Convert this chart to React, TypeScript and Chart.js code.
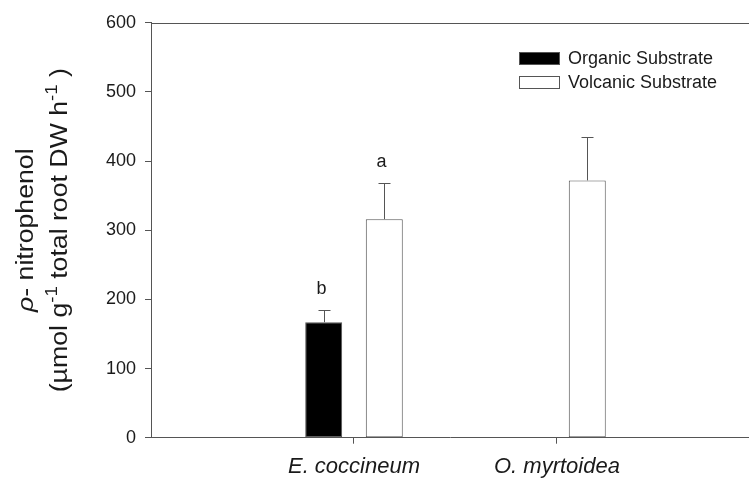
import React, { useEffect, useRef } from 'react';
import { Chart, registerables } from 'chart.js';

Chart.register(...registerables);

// ---- data ----
const categories = ['E. coccineum', 'O. myrtoidea'];
const seriesNames = ['Organic Substrate', 'Volcanic Substrate'];
const organic: (number | null)[] = [167, null];
const organicErr: (number | null)[] = [17, null];
const volcanic: (number | null)[] = [316, 372];
const volcanicErr: (number | null)[] = [52, 63];
const organicLetters: (string | null)[] = ['b', null];
const volcanicLetters: (string | null)[] = ['a', null];
const yMin = 0;
const yMax = 600;
const yStep = 100;
const yTitleLine1 = [
  { text: 'ρ', italic: true, sup: false },
  { text: '- nitrophenol', italic: false, sup: false },
];
const yTitleLine2 = [
  { text: '(µmol g', italic: false, sup: false },
  { text: '-1', italic: false, sup: true },
  { text: ' total root DW h', italic: false, sup: false },
  { text: '-1', italic: false, sup: true },
  { text: ' )', italic: false, sup: false },
];

const FONT = "'Liberation Sans', Arial, sans-serif";
const LINE = '#555555';
const TEXT = '#1a1a1a';

function drawRich(ctx: CanvasRenderingContext2D, segs: any[], cx: number, cy: number, size: number, stretch: number) {
  ctx.save();
  ctx.translate(cx, cy);
  ctx.rotate(-Math.PI / 2);
  ctx.scale(stretch, 1);
  ctx.textAlign = 'left';
  ctx.textBaseline = 'alphabetic';
  ctx.fillStyle = TEXT;
  const fontFor = (s: any) => `${s.italic ? 'italic ' : ''}${s.sup ? Math.round(size * 0.7) : size}px ${FONT}`;
  let total = 0;
  const widths = segs.map((s) => {
    ctx.font = fontFor(s);
    const w = ctx.measureText(s.text).width;
    total += w;
    return w;
  });
  let x = -total / 2;
  segs.forEach((s, i) => {
    ctx.font = fontFor(s);
    ctx.fillText(s.text, x, s.sup ? -size * 0.42 : 0);
    x += widths[i];
  });
  ctx.restore();
}

const annotPlugin = {
  id: 'annot',
  afterDatasetsDraw(chart: any) {
    const ctx: CanvasRenderingContext2D = chart.ctx;
    const ys = chart.scales.y;
    const ca = chart.chartArea;
    ctx.save();
    ctx.strokeStyle = LINE;
    ctx.lineWidth = 1;
    // top frame line
    const ty = Math.round(ca.top) + 0.5;
    ctx.beginPath();
    ctx.moveTo(ca.left, ty);
    ctx.lineTo(ca.right, ty);
    ctx.stroke();
    chart.data.datasets.forEach((ds: any, di: number) => {
      const meta = chart.getDatasetMeta(di);
      meta.data.forEach((bar: any, i: number) => {
        const v = ds.data[i].y;
        if (v == null) return;
        const e = ds.errors[i] || 0;
        const x = Math.round(bar.x) + 0.5;
        const yTop = Math.round(ys.getPixelForValue(v + e)) + 0.5;
        ctx.strokeStyle = LINE;
        ctx.beginPath();
        ctx.moveTo(x, bar.y);
        ctx.lineTo(x, yTop);
        ctx.moveTo(x - 6, yTop);
        ctx.lineTo(x + 6, yTop);
        ctx.stroke();
        const letter = ds.letters[i];
        if (letter) {
          ctx.fillStyle = TEXT;
          ctx.font = `18px ${FONT}`;
          ctx.textAlign = 'center';
          ctx.textBaseline = 'alphabetic';
          ctx.fillText(letter, x - 3, yTop - 17);
        }
      });
    });
    ctx.restore();
  },
  afterDraw(chart: any) {
    const ctx: CanvasRenderingContext2D = chart.ctx;
    const ca = chart.chartArea;
    const cy = (ca.top + ca.bottom) / 2;
    drawRich(ctx, yTitleLine1, 33, cy, 23, 1.16);
    drawRich(ctx, yTitleLine2, 66.5, cy, 23, 1.16);
    // legend
    ctx.save();
    chart.data.datasets.forEach((ds: any, di: number) => {
      const bx = 519.5;
      const by = 52.5 + di * 24;
      ctx.fillStyle = ds.backgroundColor;
      ctx.fillRect(bx, by, 40, 12);
      ctx.strokeStyle = LINE;
      ctx.lineWidth = 1;
      ctx.strokeRect(bx, by, 40, 12);
      ctx.fillStyle = TEXT;
      ctx.font = `18px ${FONT}`;
      ctx.textAlign = 'left';
      ctx.textBaseline = 'middle';
      ctx.fillText(ds.label, 568, by + 6.5);
    });
    ctx.restore();
  },
};

export default function App() {
  const ref = useRef<HTMLCanvasElement | null>(null);
  useEffect(() => {
    if (!ref.current) return;
    const mk = (vals: (number | null)[]) => categories.map((_, i) => ({ x: i + 1, y: vals[i] }));
    const chart = new Chart(ref.current, {
      type: 'bar',
      data: {
        datasets: [
          {
            label: seriesNames[0],
            data: mk(organic),
            backgroundColor: '#000000',
            borderColor: LINE,
            borderWidth: 1,
            borderSkipped: false,
            errors: organicErr,
            letters: organicLetters,
          } as any,
          {
            label: seriesNames[1],
            data: mk(volcanic),
            backgroundColor: '#ffffff',
            borderColor: LINE,
            borderWidth: 1,
            borderSkipped: false,
            errors: volcanicErr,
            letters: volcanicLetters,
          } as any,
        ],
      },
      options: {
        animation: false,
        responsive: true,
        maintainAspectRatio: false,
        events: [],
        layout: { padding: { top: 22.7, right: 0, left: 0, bottom: 0 } },
        datasets: { bar: { barPercentage: 0.61, categoryPercentage: 0.597 } },
        plugins: { legend: { display: false }, tooltip: { enabled: false }, title: { display: false } },
        scales: {
          x: {
            type: 'linear',
            min: 0,
            max: 2.946,
            offset: false,
            afterBuildTicks: (s: any) => {
              s.ticks = categories.map((_, i) => ({ value: i + 1 }));
            },
            afterFit: (s: any) => {
              s.height = 40.3;
            },
            grid: { display: true, offset: false, drawOnChartArea: false, drawTicks: true, tickLength: 6, color: LINE },
            border: { display: true, color: LINE, width: 1 },
            ticks: {
              autoSkip: false,
              maxRotation: 0,
              padding: 10,
              color: TEXT,
              font: { family: FONT, size: 22, style: 'italic' },
              callback: (v: any) => categories[Number(v) - 1] ?? '',
            },
          },
          y: {
            min: yMin,
            max: yMax,
            afterFit: (s: any) => {
              s.width = 151;
            },
            grid: { display: true, drawOnChartArea: false, drawTicks: true, tickLength: 6, color: LINE },
            border: { display: true, color: LINE, width: 1 },
            ticks: {
              stepSize: yStep,
              padding: 9,
              color: TEXT,
              font: { family: FONT, size: 18 },
            },
          },
        },
      },
      plugins: [annotPlugin],
    });
    return () => chart.destroy();
  }, []);
  return (
    <div style={{ position: 'fixed', left: 0, top: 0, width: 749, height: 478, background: '#fff' }}>
      <canvas ref={ref} />
    </div>
  );
}
